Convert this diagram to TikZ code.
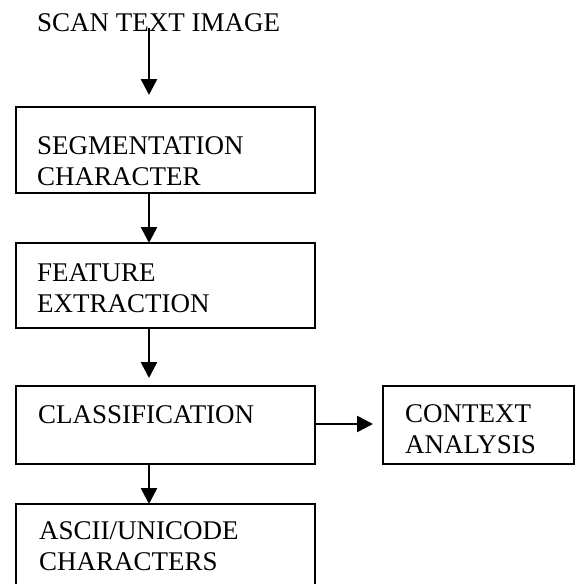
\documentclass[tikz,border=0pt]{standalone}
\usepackage{fontspec}
\setmainfont{Liberation Serif}
\usetikzlibrary{arrows.meta}
\begin{document}
\begin{tikzpicture}[x=1pt,y=-1pt,
  boxnode/.style={draw=black, line width=2pt, rectangle, anchor=north west, inner sep=0pt, outer sep=0pt},
  txt/.style={anchor=base west, inner sep=0pt, align=left, font=\fontsize{27}{31}\selectfont},
  arr/.style={line width=2.6pt, -{Triangle[width=16pt,length=16pt]}}]
\useasboundingbox (0,0) rectangle (576,584);
\clip (0,0) rectangle (576,584);
% boxes
\node[boxnode, minimum width=299pt, minimum height=86pt] (segbox) at (16,107) {};
\node[boxnode, minimum width=299pt, minimum height=85pt] (featbox) at (16,243) {};
\node[boxnode, minimum width=299pt, minimum height=78pt] (clsbox) at (16,386) {};
\node[boxnode, minimum width=191pt, minimum height=78pt] (ctxbox) at (383,386) {};
\node[boxnode, minimum width=299pt, minimum height=100pt] (asciibox) at (16,504) {};
% texts (base anchor = baseline of the last line)
\node[txt] (scan) at (37,31) {SCAN TEXT IMAGE};
\node[txt] (seg) at (37,185) {SEGMENTATION\\CHARACTER};
\node[txt] (feat) at (37,312) {FEATURE\\EXTRACTION};
\node[txt] (cls) at (38,423) {CLASSIFICATION};
\node[txt] (ctx) at (405,453) {CONTEXT\\ANALYSIS};
\node[txt] (ascii) at (39,570) {ASCII/UNICODE\\CHARACTERS};
% connectors
\coordinate (a0) at (149,28);
\coordinate (hy) at (0,424);
\draw[arr, shorten >=12pt] (a0) -- (a0 |- segbox.north);
\draw[arr] (segbox.south -| a0) -- (featbox.north -| a0);
\draw[arr, shorten >=8pt] (featbox.south -| a0) -- (clsbox.north -| a0);
\draw[arr] (clsbox.south -| a0) -- (asciibox.north -| a0);
\draw[arr, shorten >=10pt] (clsbox.east |- hy) -- (ctxbox.west |- hy);
\end{tikzpicture}
\end{document}
